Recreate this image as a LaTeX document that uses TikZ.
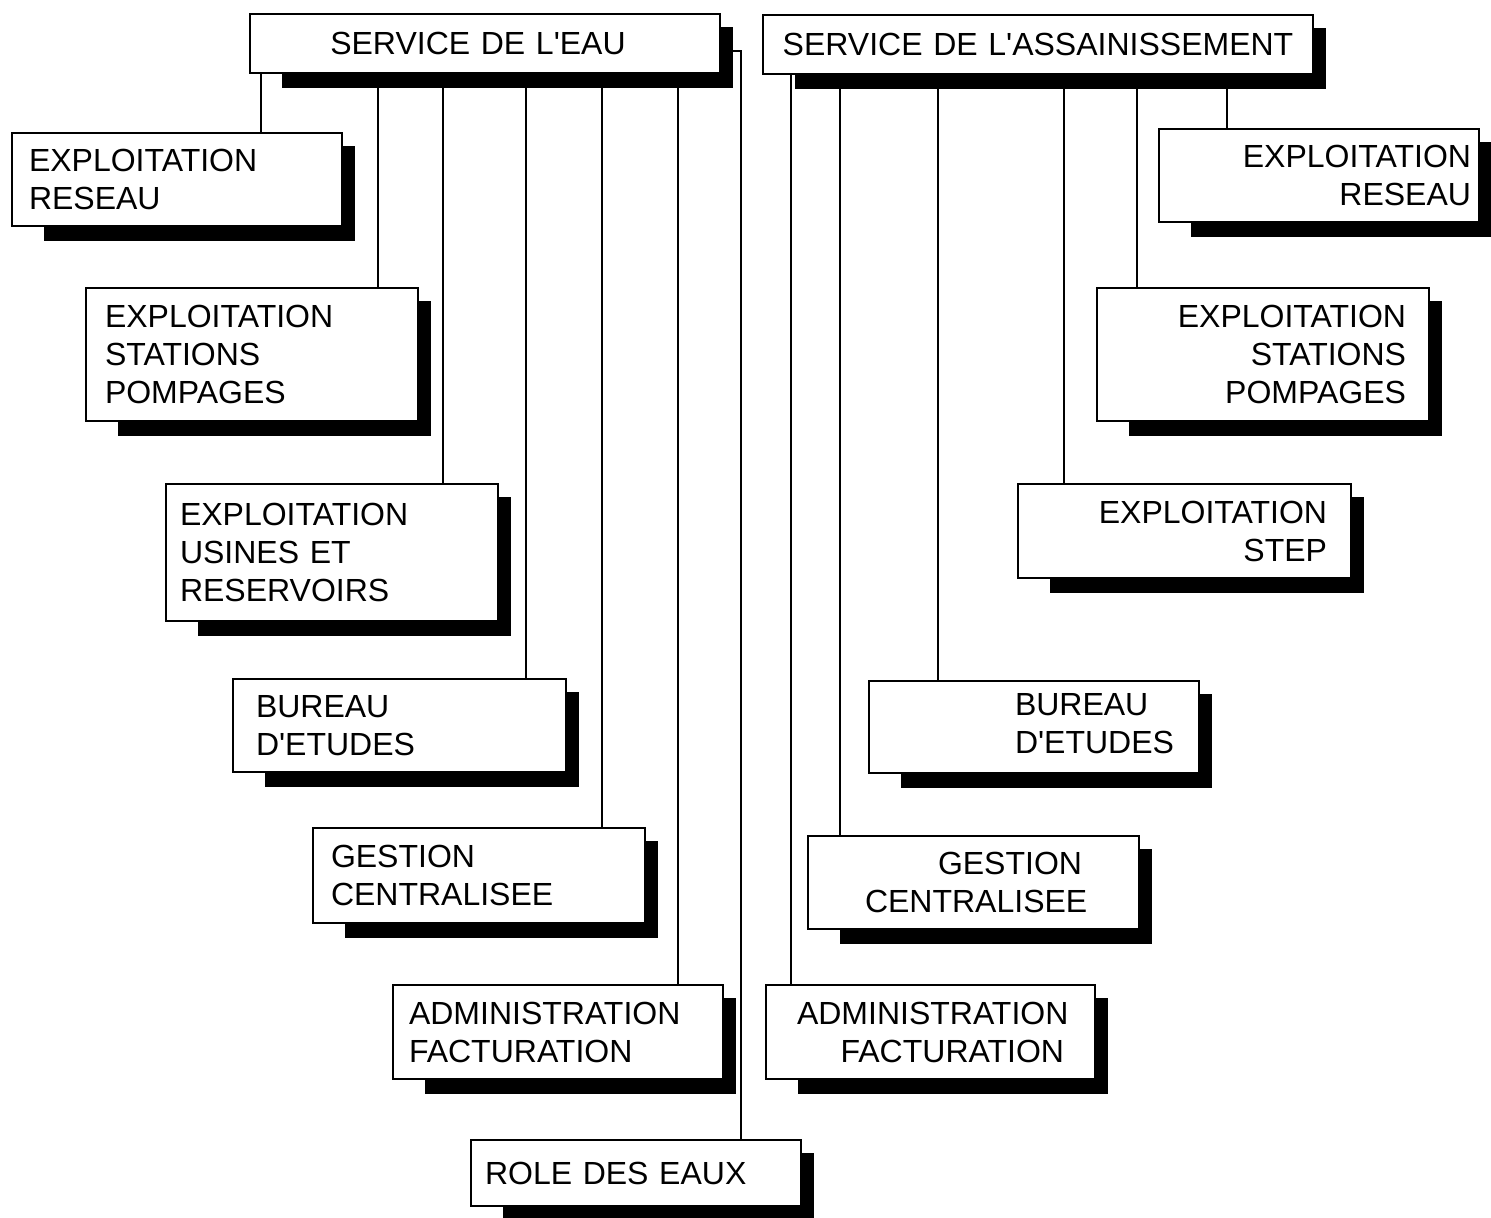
\documentclass[tikz,border=0pt]{standalone}
\usepackage{fontspec}
\setmainfont{Liberation Sans}
\pgfdeclarelayer{paper}
\pgfdeclarelayer{shade}
\pgfsetlayers{paper,shade,main}

\newcommand\apos{\textquotesingle}

\tikzset{
  orgbox/.style={draw, line width=1pt, fill=white, inner ysep=0pt,
    font=\fontsize{16}{19}\selectfont},
  link/.style={line width=1pt},
}

% box from (x1,y1) to (x2,y2) with a drop shadow; #6 alignment, #7 side inset
\newcommand\orgbox[8]{%
  \pgfmathsetmacro\bw{(#4-#2-2*#7)*0.5}%
  \pgfmathsetmacro\bh{(#5-#3)*0.5}%
  \pgfmathsetmacro\bi{#7*0.5}%
  \node[orgbox, text width=\bw pt, inner xsep=\bi pt, minimum height=\bh pt,
        align=#6, anchor=west] (#1) at (#2,{(#3+#5)/2}) {#8};
  \begin{pgfonlayer}{shade}
    \fill ([shift={(33,14)}]#1.north west) rectangle ([shift={(12,14)}]#1.south east);
  \end{pgfonlayer}}

\begin{document}
\begin{tikzpicture}[x=0.5pt, y=-0.5pt]
\begin{pgfonlayer}{paper}
  \fill[white] (0,0) rectangle (1491,1218);
\end{pgfonlayer}
\useasboundingbox (0,0) rectangle (1491,1218);

% heads of service
\orgbox{eau}{249}{14}{719}{73}{center}{10}{\hspace*{-7pt}SERVICE DE L\apos EAU}
\orgbox{assain}{762}{15}{1312}{74}{center}{10}{SERVICE DE L\apos ASSAINISSEMENT}

% water service units
\orgbox{reseauL}{11}{133}{341}{226}{left}{17}{EXPLOITATION\\RESEAU}
\orgbox{stationsL}{85}{288}{417}{421}{left}{19}{EXPLOITATION\\STATIONS\\POMPAGES}
\orgbox{usines}{165}{484}{497}{621}{left}{14}{EXPLOITATION\\USINES ET\\RESERVOIRS}
\orgbox{bureauL}{232}{679}{565}{772}{left}{23}{BUREAU\\D\apos ETUDES}
\orgbox{gestionL}{312}{828}{644}{923}{left}{18}{GESTION\\CENTRALISEE}
\orgbox{adminL}{392}{985}{722}{1079}{left}{16}{ADMINISTRATION\\FACTURATION}
\orgbox{role}{470}{1140}{800}{1206}{left}{14}{ROLE DES EAUX}

% sanitation service units
\orgbox{reseauR}{1158}{129}{1478}{222}{right}{8}{EXPLOITATION\\RESEAU}
\orgbox{stationsR}{1096}{288}{1428}{421}{right}{23}{EXPLOITATION\\STATIONS\\POMPAGES}
\orgbox{step}{1017}{484}{1350}{578}{right}{24}{EXPLOITATION\\STEP}
\orgbox{bureauR}{868}{681}{1198}{773}{right}{25}{\begin{tabular}{@{}l@{}}BUREAU\\D\apos ETUDES\end{tabular}}
\orgbox{gestionR}{807}{836}{1138}{929}{right}{57}{GESTION\\CENTRALISEE}
\orgbox{adminR}{765}{985}{1094}{1079}{right}{31}{ADMINISTRATION\\FACTURATION}

% drop-line positions
\coordinate (l1) at (261,0);
\coordinate (l2) at (378,0);
\coordinate (l3) at (443,0);
\coordinate (l4) at (526,0);
\coordinate (l5) at (602,0);
\coordinate (l6) at (678,0);
\coordinate (lr) at (741,0);
\coordinate (r1) at (1227,0);
\coordinate (r2) at (1137,0);
\coordinate (r3) at (1064,0);
\coordinate (r4) at (938,0);
\coordinate (r5) at (840,0);
\coordinate (r6) at (791,0);
\coordinate (tap) at ([shift={(0,8)}]eau.east);

\begin{pgfonlayer}{shade}
  \draw[link] (eau.south -| l1) -- (reseauL.north -| l1);
  \draw[link] (eau.south -| l2) -- (stationsL.north -| l2);
  \draw[link] (eau.south -| l3) -- (usines.north -| l3);
  \draw[link] (eau.south -| l4) -- (bureauL.north -| l4);
  \draw[link] (eau.south -| l5) -- (gestionL.north -| l5);
  \draw[link] (eau.south -| l6) -- (adminL.north -| l6);
  \draw[link] (tap) -- (tap -| lr) -- (role.north -| lr);

  \draw[link] (assain.south -| r1) -- (reseauR.north -| r1);
  \draw[link] (assain.south -| r2) -- (stationsR.north -| r2);
  \draw[link] (assain.south -| r3) -- (step.north -| r3);
  \draw[link] (assain.south -| r4) -- (bureauR.north -| r4);
  \draw[link] (assain.south -| r5) -- (gestionR.north -| r5);
  \draw[link] (assain.south -| r6) -- (adminR.north -| r6);
\end{pgfonlayer}
\end{tikzpicture}
\end{document}
